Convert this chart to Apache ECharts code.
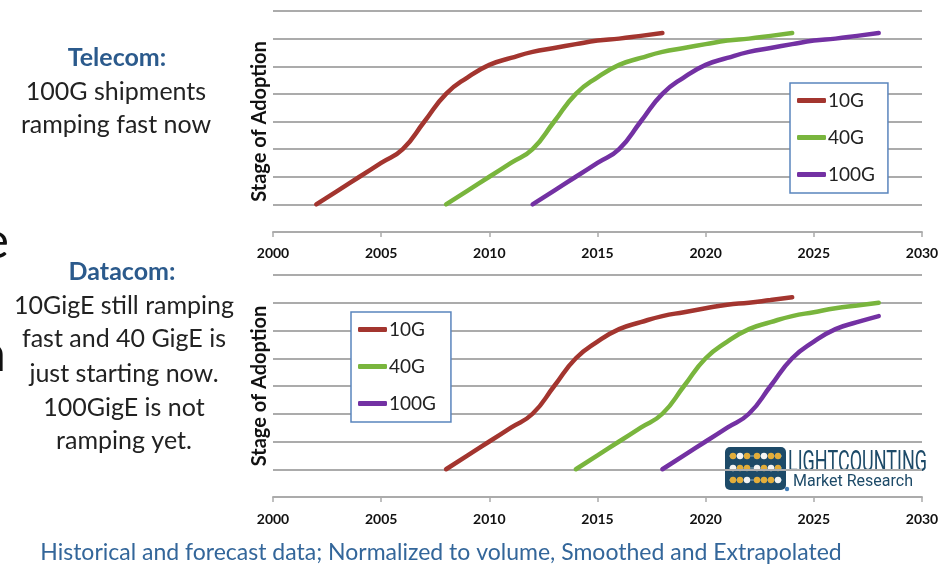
<!DOCTYPE html>
<html>
<head>
<meta charset="utf-8">
<script src="https://cdn.jsdelivr.net/npm/echarts@6/dist/echarts.min.js"></script>
<style>
  html, body { margin: 0; padding: 0; background: #fff; }
  #chart { width: 949px; height: 565px; }
</style>
</head>
<body>
<div id="chart"></div>
<script>
// Adoption curves (stage of adoption, 0-8 scale) per technology and market
const seriesNames = ['10G', '40G', '100G'];

const telecom10GStart = 2002;
const telecom10G = [1, 1.5, 2, 2.5, 3, 4, 5, 5.6, 6.05, 6.3, 6.52, 6.66, 6.8, 6.93, 7.0, 7.1, 7.2];
const telecom40GStart = 2008;
const telecom40G = [1, 1.5, 2, 2.5, 3, 4, 5, 5.6, 6.05, 6.3, 6.52, 6.66, 6.8, 6.93, 7.0, 7.1, 7.2];
const telecom100GStart = 2012;
const telecom100G = [1, 1.5, 2, 2.5, 3, 4, 5, 5.6, 6.05, 6.3, 6.52, 6.66, 6.8, 6.93, 7.0, 7.1, 7.2];

const datacom10GStart = 2008;
const datacom10G = [1, 1.5, 2, 2.5, 3, 4, 5, 5.6, 6.05, 6.3, 6.52, 6.66, 6.8, 6.93, 7.0, 7.1, 7.2];
const datacom40GStart = 2014;
const datacom40G = [1, 1.5, 2, 2.5, 3, 4, 5, 5.6, 6.05, 6.3, 6.52, 6.66, 6.8, 6.9, 7.0];
const datacom100GStart = 2018;
const datacom100G = [1, 1.5, 2, 2.5, 3, 4, 5, 5.6, 6.05, 6.3, 6.52];

// Axis ranges
const yearMin = 2000, yearMax = 2030, yearStep = 5;
const stageMin = 0, stageMax = 8, stageStep = 1;

const colors = { '10G': '#a3352f', '40G': '#79b53d', '100G': '#7331a3' };
const gridColor = '#ababab';
const textFont = 'Lato, "Open Sans", sans-serif';

function pairs(start, values) {
  return values.map((v, i) => [start + i, v]);
}

function xAxisFor(gridIndex, labelMargin) {
  return {
    type: 'value', gridIndex, min: yearMin, max: yearMax, interval: yearStep,
    axisLine: { show: true, lineStyle: { color: gridColor, width: 1.8 } },
    axisTick: { show: true, length: 5, lineStyle: { color: gridColor, width: 1.5 } },
    splitLine: { show: false },
    axisLabel: {
      margin: labelMargin, color: '#111', fontWeight: 'bold', fontSize: 14, fontFamily: textFont,
      formatter: v => String(v)
    }
  };
}

function yAxisFor(gridIndex) {
  return {
    type: 'value', gridIndex, min: stageMin, max: stageMax, interval: stageStep,
    name: 'Stage of Adoption', nameLocation: 'middle', nameRotate: 90, nameGap: 3,
    nameTextStyle: { fontSize: 20, fontWeight: 'bold', color: '#111', fontFamily: textFont },
    axisLine: { show: false }, axisTick: { show: false }, axisLabel: { show: false },
    splitLine: { show: true, lineStyle: { color: gridColor, width: 1.8 } }
  };
}

function lineSeries(name, idx, start, values) {
  return {
    name, type: 'line', xAxisIndex: idx, yAxisIndex: idx,
    data: pairs(start, values), smooth: 0.5, showSymbol: false, symbol: 'none',
    lineStyle: { color: colors[name], width: 4.5, cap: 'round', join: 'round' },
    itemStyle: { color: colors[name] }, emphasis: { disabled: true }, z: 3
  };
}

function legendAt(left, top, padRight) {
  return {
    data: seriesNames, left, top, orient: 'vertical', selectedMode: false,
    icon: 'roundRect', itemWidth: 29, itemHeight: 5, itemGap: 18,
    padding: [8, padRight, 9, 7], backgroundColor: '#fff',
    borderColor: '#5a85bd', borderWidth: 1.5, borderRadius: 0,
    textStyle: { fontSize: 19, color: '#222', fontFamily: textFont, padding: [0, 0, 0, -3] }
  };
}

// Abacus-style logo mark
function logoMark(x, y) {
  const children = [{
    type: 'rect', shape: { x: 0, y: 0, width: 61, height: 43, r: 5 },
    style: { fill: '#1d4a68' }
  }];
  const rows = [9, 21, 33];
  const cols = [8, 15, 22, 32, 39, 46, 53];
  const white = [[0, 1], [0, 4], [1, 0], [1, 3], [1, 5], [2, 2], [2, 6]];
  rows.forEach((ry, r) => {
    children.push({ type: 'line', shape: { x1: 4, y1: ry, x2: 57, y2: ry }, style: { stroke: '#8fb0c4', lineWidth: 1 } });
    cols.forEach((cx, c) => {
      const isWhite = white.some(w => w[0] === r && w[1] === c);
      children.push({ type: 'circle', shape: { cx, cy: ry, r: 3.2 }, style: { fill: isWhite ? '#f4f4f4' : '#e2ad3a' } });
    });
  });
  children.push({ type: 'circle', shape: { cx: 62, cy: 42, r: 2.2 }, style: { fill: '#3f7cb8' } });
  return { type: 'group', x, y, children };
}

const bodyFont = '25px ' + textFont;
const headFont = 'bold 25px ' + textFont;

const chart = echarts.init(document.getElementById('chart'), null, { renderer: 'canvas' });

chart.setOption({
  animation: false,
  backgroundColor: '#fff',
  grid: [
    { left: 273, right: 27, top: 11, height: 221 },
    { left: 273, right: 27, top: 275, height: 222 }
  ],
  xAxis: [xAxisFor(0, 14), xAxisFor(1, 15)],
  yAxis: [yAxisFor(0), yAxisFor(1)],
  legend: [legendAt(790, 83, 13), legendAt(351, 312, 15)],
  series: [
    lineSeries('10G', 0, telecom10GStart, telecom10G),
    lineSeries('40G', 0, telecom40GStart, telecom40G),
    lineSeries('100G', 0, telecom100GStart, telecom100G),
    lineSeries('10G', 1, datacom10GStart, datacom10G),
    lineSeries('40G', 1, datacom40GStart, datacom40G),
    lineSeries('100G', 1, datacom100GStart, datacom100G)
  ],
  graphic: [
    // left-side commentary
    { type: 'text', x: 117, y: 58, style: { text: 'Telecom:', font: headFont, fill: '#2b5a8c', align: 'center', verticalAlign: 'middle' } },
    { type: 'text', x: 116, y: 92, style: { text: '100G shipments', font: bodyFont, fill: '#222', align: 'center', verticalAlign: 'middle' } },
    { type: 'text', x: 116, y: 125, style: { text: 'ramping fast now', font: bodyFont, fill: '#222', align: 'center', verticalAlign: 'middle' } },
    { type: 'text', x: 122, y: 272, style: { text: 'Datacom:', font: headFont, fill: '#2b5a8c', align: 'center', verticalAlign: 'middle' } },
    { type: 'text', x: 124, y: 306, style: { text: '10GigE still ramping', font: bodyFont, fill: '#222', align: 'center', verticalAlign: 'middle' } },
    { type: 'text', x: 124, y: 339, style: { text: 'fast and 40 GigE is', font: bodyFont, fill: '#222', align: 'center', verticalAlign: 'middle' } },
    { type: 'text', x: 124, y: 374, style: { text: 'just starting now.', font: bodyFont, fill: '#222', align: 'center', verticalAlign: 'middle' } },
    { type: 'text', x: 124, y: 408, style: { text: '100GigE is not', font: bodyFont, fill: '#222', align: 'center', verticalAlign: 'middle' } },
    { type: 'text', x: 124, y: 441, style: { text: 'ramping yet.', font: bodyFont, fill: '#222', align: 'center', verticalAlign: 'middle' } },
    // clipped letters at the left edge
    { type: 'text', x: 9, y: 242, style: { text: 'e', font: '50px ' + textFont, fill: '#111', align: 'right', verticalAlign: 'middle' } },
    { type: 'text', x: 6, y: 355, style: { text: 'n', font: '50px ' + textFont, fill: '#111', align: 'right', verticalAlign: 'middle' } },
    // footnote
    { type: 'text', x: 441, y: 553, style: { text: 'Historical and forecast data; Normalized to volume, Smoothed and Extrapolated', font: '23px ' + textFont, fill: '#33669a', align: 'center', verticalAlign: 'middle' } },
    // logo
    logoMark(725, 447),
    { type: 'text', x: 788, y: 463, scaleX: 0.6, style: { text: 'LIGHTCOUNTING', font: '30px Roboto, sans-serif', fill: '#1d4a68', align: 'left', verticalAlign: 'middle' } },
    { type: 'text', x: 793, y: 482, style: { text: 'Market Research', font: '16px Roboto, sans-serif', fill: '#1d4a68', align: 'left', verticalAlign: 'middle' } }
  ]
});
</script>
</body>
</html>
